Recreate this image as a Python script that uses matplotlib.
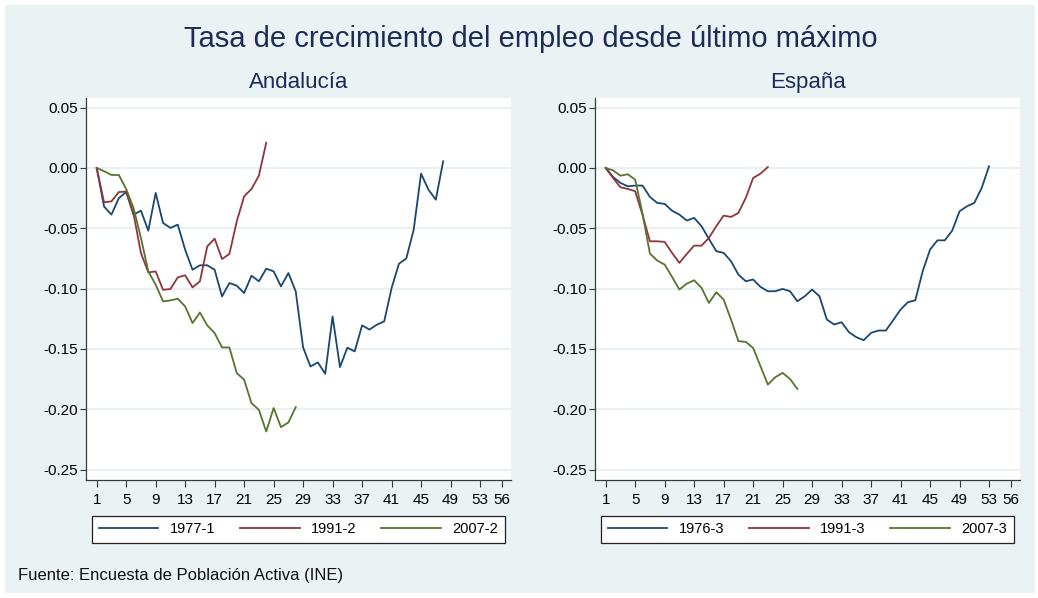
import matplotlib.pyplot as plt
from matplotlib.patches import Rectangle

# crecimiento del empleo desde el ultimo maximo (trimestres desde el pico)
and_1977_1 = [0.0, -0.032, -0.0387, -0.025, -0.020, -0.0387, -0.0354, -0.052,
              -0.0207, -0.0456, -0.0497, -0.047, -0.0678, -0.0844, -0.0807,
              -0.0807, -0.0844, -0.1065, -0.0954, -0.0976, -0.1037, -0.0893,
              -0.094, -0.0835, -0.0857, -0.0982, -0.0871, -0.1023, -0.1488,
              -0.1646, -0.1612, -0.1706, -0.1231, -0.1651, -0.149, -0.1521,
              -0.1305, -0.134, -0.130, -0.1272, -0.0996, -0.0794, -0.075,
              -0.0512, -0.0047, -0.018, -0.0263, 0.0055]
and_1991_2 = [0.0, -0.0285, -0.0277, -0.020, -0.0195, -0.038, -0.0705, -0.0866,
              -0.0858, -0.101, -0.1004, -0.0907, -0.089, -0.099, -0.094,
              -0.065, -0.0586, -0.0755, -0.0713, -0.0443, -0.0235, -0.0174,
              -0.0064, 0.021]
and_2007_2 = [0.0, -0.0027, -0.0058, -0.0058, -0.0175, -0.0332, -0.058, -0.0857,
              -0.0968, -0.1106, -0.1098, -0.1084, -0.1148, -0.1286, -0.1198,
              -0.1305, -0.1369, -0.1488, -0.1488, -0.170, -0.1756, -0.195,
              -0.2005, -0.2185, -0.199, -0.2149, -0.211, -0.1983]

esp_1976_3 = [0.0, -0.0075, -0.0124, -0.0152, -0.0146, -0.0146, -0.024, -0.029,
              -0.0298, -0.0354, -0.0387, -0.0436, -0.0414, -0.0483, -0.0588,
              -0.069, -0.0704, -0.0773, -0.0884, -0.0939, -0.0925, -0.0986,
              -0.1022, -0.1022, -0.1003, -0.1022, -0.1105, -0.1064, -0.1008,
              -0.1064, -0.1257, -0.1298, -0.1279, -0.1362, -0.1403, -0.1428,
              -0.1367, -0.1348, -0.1348, -0.1262, -0.1174, -0.1113, -0.1097,
              -0.0856, -0.0677, -0.060, -0.060, -0.052, -0.0359, -0.0318,
              -0.029, -0.0166, 0.0014]
esp_1991_3 = [0.0, -0.0083, -0.016, -0.0174, -0.0193, -0.039, -0.0608, -0.0608,
              -0.0613, -0.0704, -0.0787, -0.0713, -0.0644, -0.0644, -0.058,
              -0.0483, -0.0395, -0.0406, -0.0373, -0.0249, -0.0083, -0.0047,
              0.0008]
esp_2007_3 = [0.0, -0.002, -0.0064, -0.0052, -0.0097, -0.038, -0.071, -0.0768,
              -0.0801, -0.0903, -0.1008, -0.0959, -0.0931, -0.0994, -0.1119,
              -0.103, -0.1091, -0.1257, -0.1436, -0.1442, -0.1492, -0.1644,
              -0.1796, -0.1735, -0.1699, -0.1749, -0.1832]

x_ticks = [1, 5, 9, 13, 17, 21, 25, 29, 33, 37, 41, 45, 49, 53, 56]
y_ticks = [0.05, 0.0, -0.05, -0.10, -0.15, -0.20, -0.25]

NAVY = '#1A476F'
MAROON = '#90353B'
GREEN = '#55752F'
BG = '#EAF2F3'
TXT = '#1C2B58'

plt.rcParams['font.family'] = ['Liberation Sans', 'DejaVu Sans']
plt.rcParams['axes.unicode_minus'] = False

W, H = 1038, 598


def panel(rect, title, series, labels):
    ax = fig.add_axes(rect)
    ax.set_facecolor('white')
    for s, lab, c in zip(series, labels, [NAVY, MAROON, GREEN]):
        ax.plot(range(1, len(s) + 1), s, color=c, lw=1.3, label=lab)
    ax.set_xlim(-0.45, 57.2)
    ax.set_ylim(-0.2587, 0.058)
    ax.set_xticks(x_ticks)
    ax.set_yticks(y_ticks)
    ax.set_yticklabels([f'{v:.2f}' if v != 0 else '0.00' for v in y_ticks])
    ax.yaxis.grid(True, color='#E2ECEF', lw=1.1)
    ax.set_axisbelow(True)
    for side in ['top', 'right']:
        ax.spines[side].set_visible(False)
    for side in ['left', 'bottom']:
        ax.spines[side].set_color('#3a3a3a')
        ax.spines[side].set_linewidth(0.9)
    ax.tick_params(axis='y', length=4, width=0.8, color='#3a3a3a', pad=1.5,
                   labelsize=11)
    ax.tick_params(axis='x', length=5, width=0.8, color='#3a3a3a', pad=4,
                   labelsize=11)
    ax.set_title(title, fontsize=16, color=TXT, pad=7)
    leg = ax.legend(loc='upper left', bbox_to_anchor=(0.014, -0.168, 0.972, 0.0745),
                    mode='expand', ncol=3, handlelength=4.1, handletextpad=0.8,
                    borderpad=0.45, borderaxespad=0, fontsize=10.5,
                    fancybox=False, framealpha=1, edgecolor='#222222')
    leg.get_frame().set_linewidth(0.9)
    return ax


fig = plt.figure(figsize=(W / 100, H / 100), dpi=100, facecolor='white')
fig.add_artist(Rectangle((5 / W, 5 / H), 1030 / W, 588 / H, facecolor=BG,
                         edgecolor='none', transform=fig.transFigure, zorder=-1))

bottom = (H - 480) / H
height = 382 / H
panel([86 / W, bottom, 425 / W, height], 'Andalucía',
      [and_1977_1, and_1991_2, and_2007_2], ['1977-1', '1991-2', '2007-2'])
panel([595 / W, bottom, 425 / W, height], 'España',
      [esp_1976_3, esp_1991_3, esp_2007_3], ['1976-3', '1991-3', '2007-3'])

fig.text(531 / W, 1 - 47 / H, 'Tasa de crecimiento del empleo desde último máximo',
         ha='center', va='baseline', fontsize=21, color=TXT)
fig.text(18 / W, 1 - 580 / H, 'Fuente: Encuesta de Población Activa (INE)',
         ha='left', va='baseline', fontsize=12, color='#111111')

fig.savefig('out.png', dpi=100, facecolor=fig.get_facecolor())
